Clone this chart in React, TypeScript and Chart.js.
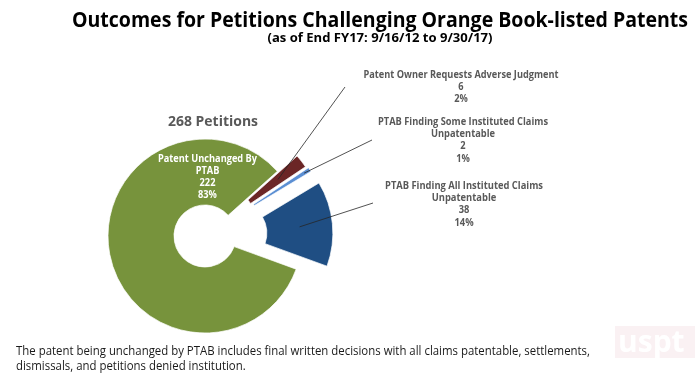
import React, { useEffect, useRef } from "react";
import { Chart, registerables } from "chart.js";

Chart.register(...registerables);

const categories = [
  "Patent Unchanged By PTAB",
  "Patent Owner Requests Adverse Judgment",
  "PTAB Finding Some Instituted Claims Unpatentable",
  "PTAB Finding All Instituted Claims Unpatentable",
];
const counts = [222, 6, 2, 38];
const percentLabels = ["83%", "2%", "1%", "14%"];
const labelLines = [
  ["Patent Unchanged By", "PTAB"],
  ["Patent Owner Requests Adverse Judgment"],
  ["PTAB Finding Some Instituted Claims", "Unpatentable"],
  ["PTAB Finding All Instituted Claims", "Unpatentable"],
];
const sliceColors = ["#77933C", "#6B2626", "#5B8FD3", "#1F4E83"];
const explode = [0, 25, 27, 31];

const titleText = "Outcomes for Petitions Challenging Orange Book-listed Patents";
const subtitleText = "(as of End FY17: 9/16/12 to 9/30/17)";
const totalText = "268 Petitions";
const noteLines = [
  "The patent being unchanged by PTAB includes final written decisions with all claims patentable, settlements,",
  "dismissals, and petitions denied institution.",
];

function drawText(
  ctx: CanvasRenderingContext2D,
  text: string,
  x: number,
  y: number,
  font: string,
  color: string,
  targetWidth: number | null,
  align: CanvasTextAlign = "center",
  forcedScale?: number
): number {
  ctx.save();
  ctx.font = font;
  const w = ctx.measureText(text).width;
  const sx = forcedScale ?? (targetWidth ? targetWidth / w : 1);
  ctx.translate(x, y);
  ctx.scale(sx, 1);
  ctx.fillStyle = color;
  ctx.textAlign = align;
  ctx.textBaseline = "middle";
  ctx.fillText(text, 0, 0);
  ctx.restore();
  return sx;
}

const explodePlugin = {
  id: "explodeArcs",
  beforeDatasetDraw(chart: any, args: any) {
    const ctx = chart.ctx;
    const meta = chart.getDatasetMeta(args.index);
    meta.data.forEach((arc: any, i: number) => {
      const mid = (arc.startAngle + arc.endAngle) / 2;
      const d = explode[i] || 0;
      ctx.save();
      ctx.translate(Math.cos(mid) * d, Math.sin(mid) * d);
      arc.draw(ctx);
      ctx.restore();
    });
    return false;
  },
};

const textPlugin = {
  id: "texts",
  afterDraw(chart: any) {
    const ctx: CanvasRenderingContext2D = chart.ctx;
    const gray = "#595959";
    const fam = "'Open Sans', 'Noto Sans', sans-serif";

    // watermark
    ctx.save();
    ctx.fillStyle = "#FAF1F3";
    ctx.fillRect(615, 326, 80, 32);
    ctx.restore();
    drawText(ctx, "uspt", 618, 343, `bold 30px ${fam}`, "#FFFFFF", null, "left");

    // title
    drawText(ctx, titleText, 380, 21, `bold 21px ${fam}`, "#000000", 616);
    drawText(ctx, subtitleText, 380, 38, `bold 13px ${fam}`, "#000000", 225);
    drawText(ctx, totalText, 213, 122, `bold 15px ${fam}`, gray, 90);

    const meta = chart.getDatasetMeta(0);
    const arcs = meta.data;

    // green slice label
    const f10 = `bold 10.5px ${fam}`;
    const s0 = drawText(ctx, labelLines[0][0], 207.5, 159, f10, "#FFFFFF", 99);
    drawText(ctx, labelLines[0][1], 207.5, 171, f10, "#FFFFFF", null, "center", s0);
    drawText(ctx, String(counts[0]), 207.5, 183, f10, "#FFFFFF", null, "center", s0);
    drawText(ctx, percentLabels[0], 207.5, 195, f10, "#FFFFFF", null, "center", s0);

    // outside labels
    const outside = [
      { i: 1, cx: 461, y: 75, w: 195, end: [345, 87], frac: 0.55 },
      { i: 2, cx: 463, y: 122, w: 170, end: [372, 140], frac: 0.9 },
      { i: 3, cx: 464, y: 186, w: 158, end: [373, 203], frac: 0.5 },
    ];
    outside.forEach((o) => {
      const lines = [...labelLines[o.i], String(counts[o.i]), percentLabels[o.i]];
      let sc = 1;
      lines.forEach((t, k) => {
        if (k === 0) sc = drawText(ctx, t, o.cx, o.y + k * 12.2, f10, gray, o.w);
        else drawText(ctx, t, o.cx, o.y + k * 12.2, f10, gray, null, "center", sc);
      });
      const arc = arcs[o.i];
      const mid = (arc.startAngle + arc.endAngle) / 2;
      const r = explode[o.i] + arc.innerRadius + (arc.outerRadius - arc.innerRadius) * o.frac;
      const sx = arc.x + Math.cos(mid) * r;
      const sy = arc.y + Math.sin(mid) * r;
      ctx.save();
      ctx.strokeStyle = "#262626";
      ctx.lineWidth = 0.8;
      ctx.beginPath();
      ctx.moveTo(sx, sy);
      ctx.lineTo(o.end[0], o.end[1]);
      ctx.stroke();
      ctx.restore();
    });

    // note
    const fn = `12px ${fam}`;
    const sn = drawText(ctx, noteLines[0], 16, 352, fn, "#1A1A1A", 574, "left");
    drawText(ctx, noteLines[1], 16, 367, fn, "#1A1A1A", null, "left", sn);
  },
};

export default function App() {
  const ref = useRef<HTMLCanvasElement | null>(null);
  useEffect(() => {
    document.body.style.margin = "0";
    if (!ref.current) return;
    const chart = new Chart(ref.current, {
      type: "doughnut",
      data: {
        labels: categories,
        datasets: [
          {
            data: counts,
            backgroundColor: sliceColors,
            borderColor: "#FFFFFF",
            borderWidth: 0.7,
            clip: false,
          } as any,
        ],
      },
      options: {
        animation: false,
        responsive: true,
        maintainAspectRatio: false,
        radius: 97,
        cutout: "32%",
        rotation: 110,
        layout: { padding: { left: 0, right: 285, top: 90, bottom: 0 } },
        plugins: {
          legend: { display: false },
          tooltip: { enabled: false },
          title: { display: false },
        },
      } as any,
      plugins: [explodePlugin, textPlugin],
    });
    return () => chart.destroy();
  }, []);
  return (
    <div style={{ position: "absolute", left: 0, top: 0, width: 695, height: 382, background: "#FFFFFF" }}>
      <canvas ref={ref} />
    </div>
  );
}
